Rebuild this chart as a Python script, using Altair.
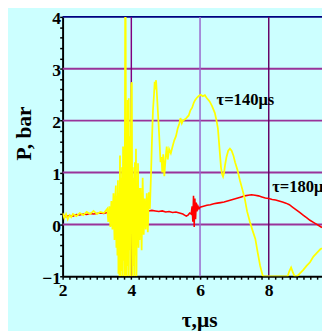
import altair as alt
import pandas as pd

# tau = 140 us (yellow)
y140_x = [2.0, 2.05, 2.1, 2.15, 2.2, 2.25, 2.3, 2.4, 2.5, 2.6, 2.7, 2.8, 2.9, 3.0, 3.1, 3.2, 3.3,
          3.33, 3.36, 3.39, 3.42, 3.45, 3.48, 3.51, 3.53,
          3.55, 3.565, 3.58, 3.595, 3.61, 3.625, 3.64, 3.655, 3.67, 3.685, 3.70, 3.715, 3.73, 3.745,
          3.76, 3.775, 3.79, 3.805, 3.82, 3.835, 3.85, 3.865, 3.88, 3.895, 3.91, 3.925, 3.94, 3.955,
          3.97, 3.985, 4.0, 4.015, 4.03, 4.045, 4.06, 4.075, 4.09, 4.105, 4.12, 4.135, 4.15, 4.165,
          4.18, 4.195, 4.21, 4.225, 4.24,
          4.27, 4.30, 4.33, 4.36, 4.39, 4.42, 4.45, 4.48, 4.51, 4.54,
          4.57, 4.60, 4.63, 4.66, 4.68, 4.70, 4.72, 4.75, 4.78, 4.82, 4.85, 4.88, 4.90, 4.93, 4.96,
          5.0, 5.03, 5.06, 5.1, 5.15, 5.2, 5.25, 5.3, 5.35, 5.4, 5.43, 5.47, 5.5, 5.55, 5.6, 5.67,
          5.72, 5.77, 5.82, 5.86, 5.92, 5.97, 6.02, 6.08, 6.14, 6.2, 6.28, 6.35, 6.43, 6.48, 6.52,
          6.55, 6.58, 6.61, 6.64, 6.67, 6.7, 6.73, 6.77, 6.82, 6.87, 6.92, 6.97, 7.02, 7.09, 7.16,
          7.23, 7.3, 7.37, 7.45, 7.53, 7.61, 7.68, 7.75, 7.82, 7.85, 8.0, 8.2, 8.4, 8.55, 8.6, 8.65,
          8.7, 8.75, 8.82, 8.9, 9.0, 9.1, 9.2, 9.3, 9.4, 9.5, 9.55]
y140_p = [0.22, 0.12, 0.2, 0.1, 0.18, 0.14, 0.2, 0.16, 0.22, 0.18, 0.24, 0.2, 0.26, 0.2, 0.24, 0.22, 0.3,
          0.05, 0.35, -0.05, 0.45, -0.1, 0.6, -0.3, 0.5,
          0.75, -0.45, 0.55, -0.6, 0.85, -0.95, 0.6, -1.0, 1.33, -1.0, 0.9, -0.9, 1.1, -1.0,
          1.5, -0.7, 1.2, -1.0, 4.0, 4.0, -1.0, 1.9, -0.8, 2.4, -1.0, 2.43, -0.5, 1.7,
          -1.0, 1.4, 2.7, 2.74, -1.0, 1.1, -0.8, 0.9, -1.0, 1.2, -0.6, 1.46, -1.0, 0.8,
          -0.4, 1.18, -0.45, 0.7, -0.3,
          0.7, -0.5, 0.9, -0.2, 0.5, -0.1, 0.6, -0.15, 0.62, 0.3,
          0.9, 1.6, 2.2, 2.5, 2.75, 2.6, 2.78, 2.45, 2.1, 1.6, 1.2, 1.3, 1.0, 1.35, 0.93,
          1.3, 1.5, 1.25, 1.45, 1.37, 1.5, 1.62, 1.7, 1.85, 1.95, 2.05, 1.95, 2.0, 2.02, 2.05, 2.1,
          2.2, 2.25, 2.35, 2.4, 2.45, 2.48, 2.5, 2.47, 2.49, 2.43, 2.37, 2.28, 2.15, 2.0, 1.85,
          1.6, 1.35, 1.1, 0.97, 0.92, 1.0, 1.15, 1.3, 1.42, 1.46, 1.42, 1.33, 1.2, 1.05, 0.85,
          0.68, 0.5, 0.25, 0.05, -0.12, -0.28, -0.55, -0.8, -0.98, -1.0, -1.0, -1.0, -1.0, -1.0, -0.9, -0.83,
          -0.92, -1.0, -1.0, -0.95, -0.88, -0.8, -0.73, -0.62, -0.55, -0.48, -0.46]

# tau = 180 us (red)
r180_x = [2.0, 2.1, 2.2, 2.3, 2.4, 2.5, 2.6, 2.7, 2.8, 2.9, 3.0, 3.1, 3.2, 3.3, 3.4, 3.5, 3.6, 3.7,
          3.8, 3.9, 4.0, 4.1, 4.2, 4.3, 4.4, 4.5, 4.6, 4.7, 4.8, 4.9, 5.0, 5.1, 5.2, 5.3, 5.4, 5.5,
          5.55, 5.6, 5.65, 5.7, 5.74, 5.77, 5.79, 5.81, 5.83, 5.85, 5.87, 5.89, 5.91, 5.94, 5.97,
          6.0, 6.1, 6.2, 6.3, 6.4, 6.5, 6.6, 6.7, 6.8, 6.9, 7.0, 7.1, 7.2, 7.3, 7.4, 7.5, 7.6, 7.7,
          7.8, 7.9, 8.0, 8.1, 8.2, 8.3, 8.4, 8.5, 8.6, 8.7, 8.8, 8.9, 9.0, 9.1, 9.2, 9.3, 9.4, 9.5, 9.55]
r180_p = [0.18, 0.15, 0.17, 0.16, 0.19, 0.18, 0.2, 0.19, 0.21, 0.2, 0.21, 0.22, 0.21, 0.23, 0.22, 0.24,
          0.23, 0.25, 0.24, 0.25, 0.26, 0.25, 0.27, 0.26, 0.27, 0.26, 0.27, 0.26, 0.25, 0.26, 0.24, 0.25,
          0.23, 0.24, 0.22, 0.2, 0.18, 0.16, 0.18, 0.22, 0.2, 0.35, 0.05, 0.55, -0.05, 0.5, 0.1, 0.42,
          0.25, 0.35, 0.3, 0.33, 0.35, 0.37, 0.38, 0.4, 0.41, 0.42, 0.43, 0.45, 0.47, 0.49, 0.51, 0.53,
          0.55, 0.56, 0.57, 0.56, 0.55, 0.53, 0.51, 0.5, 0.48, 0.47, 0.45, 0.43, 0.41, 0.38, 0.33, 0.28,
          0.23, 0.18, 0.13, 0.08, 0.04, 0.0, -0.04, -0.06]

label_text = ["τ=140μs", "τ=180μs"]
label_x = [6.48, 8.10]
label_y = [2.31, 0.615]

vgrid_x = [4, 6, 8]
vgrid_color = ["#800080", "#9966CC", "#660066"]
hgrid_y = [0, 1, 2, 3]
x_ticks = [round(2 + 0.2 * i, 1) for i in range(38)]
y_ticks = [round(-1 + 0.2 * i, 1) for i in range(26)]

XD = [2, 9.55]
YD = [-1, 4]
FONT = "Liberation Serif"

df_y = pd.DataFrame({"t": y140_x, "p": y140_p})
df_r = pd.DataFrame({"t": r180_x, "p": r180_p})
df_lab = pd.DataFrame({"t": label_x, "p": label_y, "s": label_text})
df_vg = pd.DataFrame({"t": vgrid_x, "c": vgrid_color})
df_hg = pd.DataFrame({"p": hgrid_y})
df_top = pd.DataFrame({"p": [4]})

xs = alt.Scale(domain=XD, nice=False, zero=False)
ys = alt.Scale(domain=YD, nice=False, zero=False)

xaxis = alt.Axis(values=x_ticks, grid=False, title="τ,μs",
                 labelExpr="abs(datum.value - round(datum.value/2)*2) < 0.01 ? format(datum.value, 'd') : ''",
                 labelPadding=3, titleX=140, titleY=35)
yaxis = alt.Axis(values=y_ticks, grid=False, title="P, bar",
                 labelExpr="abs(datum.value - round(datum.value)) < 0.01 ? format(datum.value, 'd') : ''",
                 labelPadding=-1, labelOffset=2, titleX=-28, titleY=119)

hgrid = alt.Chart(df_hg).mark_rule(color="#993399", strokeWidth=2).encode(
    y=alt.Y("p:Q", scale=ys, axis=yaxis))
topline = alt.Chart(df_top).mark_rule(color="#000080", strokeWidth=2).encode(
    y=alt.Y("p:Q", scale=ys, axis=yaxis))
vgrid = alt.Chart(df_vg).mark_rule(strokeWidth=1.5).encode(
    x=alt.X("t:Q", scale=xs, axis=xaxis),
    color=alt.Color("c:N", scale=None))
red = alt.Chart(df_r).mark_line(color="#FF0000", strokeWidth=1.6, clip=True).encode(
    x=alt.X("t:Q", scale=xs, axis=xaxis), y=alt.Y("p:Q", scale=ys, axis=yaxis), order="t:Q")
yellow = alt.Chart(df_y).mark_line(color="#FFFF00", strokeWidth=1.8, clip=True).encode(
    x=alt.X("t:Q", scale=xs, axis=xaxis), y=alt.Y("p:Q", scale=ys, axis=yaxis), order="t:Q")
labels = alt.Chart(df_lab).mark_text(font=FONT, fontSize=17, fontWeight="bold", color="black",
                                      align="left", baseline="alphabetic", clip=True).encode(
    x=alt.X("t:Q", scale=xs, axis=xaxis), y=alt.Y("p:Q", scale=ys, axis=yaxis), text="s:N")

chart = alt.layer(hgrid, topline, vgrid, red, yellow, labels).properties(
    width=266, height=266,
    autosize=alt.AutoSizeParams(type="none"),
    padding={"left": 56, "top": 5, "right": 0, "bottom": 52},
    background="#CCFFFF",
).configure_view(fill="#CCFFFF", stroke=None).configure_axis(
    labelOverlap=False, labelBound=False, labelFlush=False,
    labelFont=FONT, labelFontSize=18, labelFontWeight="bold", labelColor="black",
    titleFont=FONT, titleFontSize=22, titleFontWeight="bold", titleColor="black",
    domainColor="black", domainWidth=2, tickColor="black", tickWidth=1.5, tickSize=3,
)

chart.save("out.html", embed_options={"renderer": "svg", "actions": False})
